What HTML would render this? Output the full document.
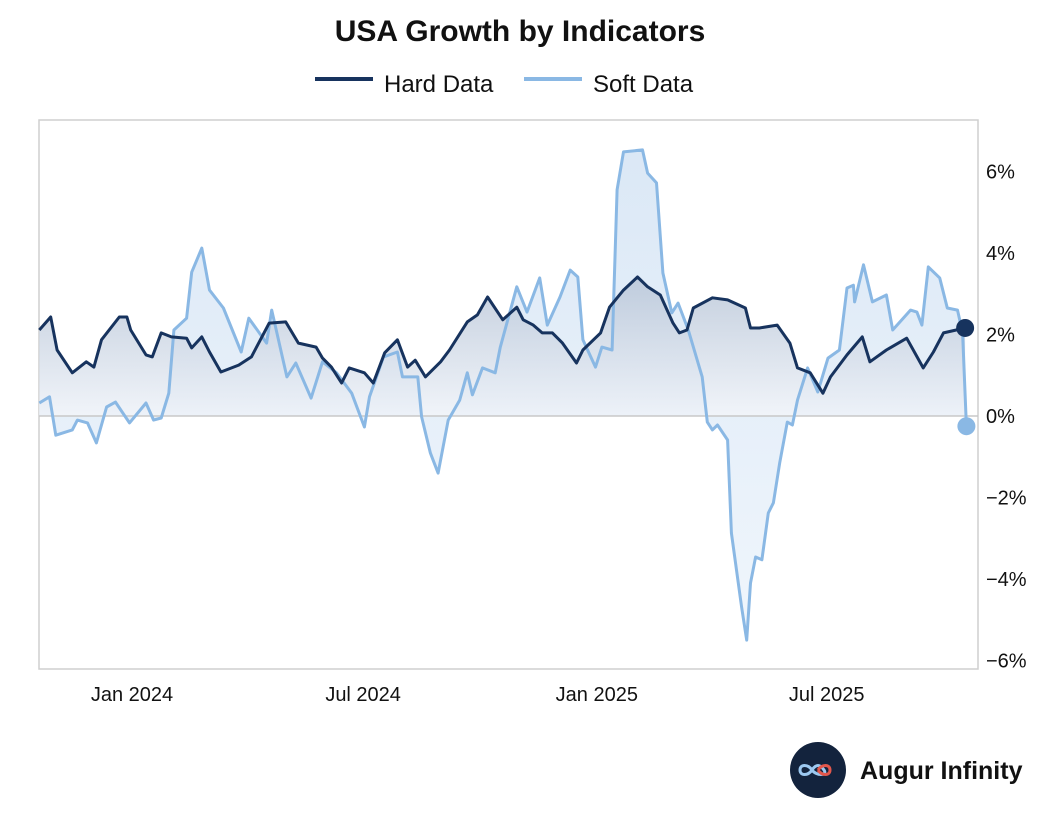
<!DOCTYPE html>
<html><head><meta charset="utf-8"><style>
html,body{margin:0;padding:0;background:#fff;}
svg text{font-family:"Liberation Sans",sans-serif;fill:#111;}
</style></head><body>
<svg id="chart" width="1040" height="812" viewBox="0 0 1040 812">
<defs>
<linearGradient id="gHard" x1="0" y1="0" x2="0" y2="1"><stop offset="0" stop-color="#b9c6d8"/><stop offset="1" stop-color="#eef2f8"/></linearGradient>
<linearGradient id="gSoft" x1="0" y1="0" x2="0" y2="1"><stop offset="0" stop-color="#dbe8f6"/><stop offset="1" stop-color="#f0f6fc"/></linearGradient>
</defs>
<text x="520" y="41" text-anchor="middle" font-size="30" font-weight="bold">USA Growth by Indicators</text>
<g>
<g><line x1="315" y1="79" x2="373" y2="79" stroke="#17335e" stroke-width="4"/><text x="384" y="92" font-size="24">Hard Data</text></g>
<g><line x1="524" y1="79" x2="582" y2="79" stroke="#8ab8e4" stroke-width="4"/><text x="593" y="92" font-size="24">Soft Data</text></g>
</g>
<rect x="39" y="120" width="939" height="549" fill="none" stroke="#cfcfcf" stroke-width="1.5"/>
<g id="plot"></g>
<g id="axes"></g>
<g>
<circle cx="818" cy="770" r="28" fill="#13233d"/>
<path d="M812 770 c-4-6-12-6-12 0 s8 6 12 0 s8-6 12-0 s-8 6-12 0" fill="none" stroke="#9cc8f0" stroke-width="3"/>
<path d="M818 770 c4-6 12-6 12 0 s-8 6-12 0" fill="none" stroke="#e2574c" stroke-width="3"/>
<text x="860" y="779" font-size="25" font-weight="bold">Augur Infinity</text>
</g>
</svg>
<script>
const hardDays=[-73,-64,-59,-47,-36,-30,-24,-10,-4,-1,11,16,23,31,43,47,55,61,70,84,94,108,121,131,145,150,157,165,171,183,190,199,209,217,223,231,243,250,264,272,280,292,303,308,316,323,331,339,350,355,369,376,387,398,406,416,426,431,437,442,457,469,483,487,494,508,518,524,534,544,550,563,575,581,594,610,623,631,639,656];
const hardValues=[2.11,2.43,1.62,1.06,1.33,1.20,1.87,2.43,2.43,2.11,1.50,1.45,2.04,1.94,1.91,1.67,1.94,1.57,1.08,1.25,1.45,2.28,2.31,1.79,1.69,1.42,1.20,0.81,1.18,1.06,0.81,1.55,1.87,1.20,1.37,0.96,1.33,1.62,2.31,2.48,2.92,2.36,2.67,2.36,2.23,2.04,2.04,1.79,1.30,1.62,2.04,2.67,3.09,3.41,3.17,2.97,2.28,2.04,2.11,2.65,2.90,2.85,2.65,2.16,2.16,2.23,1.79,1.18,1.06,0.56,0.96,1.50,1.94,1.33,1.62,1.91,1.18,1.57,2.04,2.16];
const softDays=[-73,-65,-60,-47,-43,-35,-28,-20,-13,-2,11,17,23,29,33,43,47,55,61,72,86,92,106,110,122,129,141,150,161,173,183,187,198,209,213,225,228,235,241,249,258,264,268,276,286,290,303,311,321,327,337,345,351,355,365,370,378,382,387,402,406,413,418,425,430,438,449,453,457,461,469,472,480,484,487,491,496,501,505,510,516,520,524,532,540,548,557,563,568,569,576,583,594,599,613,618,622,627,636,642,650,654,657];
const softValues=[0.32,0.47,-0.47,-0.34,-0.10,-0.17,-0.66,0.22,0.34,-0.17,0.32,-0.10,-0.05,0.56,2.11,2.40,3.53,4.12,3.09,2.65,1.57,2.40,1.79,2.60,0.96,1.30,0.44,1.33,1.06,0.56,-0.27,0.47,1.45,1.57,0.96,0.96,-0.02,-0.91,-1.40,-0.10,0.39,1.06,0.52,1.18,1.06,1.69,3.17,2.55,3.39,2.23,2.92,3.58,3.41,1.87,1.20,1.69,1.62,5.55,6.48,6.53,5.96,5.72,3.51,2.53,2.77,2.11,0.96,-0.15,-0.34,-0.22,-0.59,-2.87,-4.69,-5.50,-4.10,-3.46,-3.53,-2.38,-2.13,-1.15,-0.15,-0.22,0.39,1.18,0.59,1.42,1.62,3.14,3.21,2.80,3.71,2.80,2.97,2.11,2.60,2.55,2.23,3.66,3.39,2.65,2.60,2.04,-0.25];
const yTicks=[6,4,2,0,-2,-4,-6];
const xTickDays=[0,182,366,547];
const xTickLabels=["Jan 2024","Jul 2024","Jan 2025","Jul 2025"];

const NS="http://www.w3.org/2000/svg";
const xS=d=>132+d*1.27;
const yS=v=>416-v*40.75;
const plot=document.getElementById('plot'), axes=document.getElementById('axes');
function mk(tag,attrs,parent){const e=document.createElementNS(NS,tag);for(const k in attrs)e.setAttribute(k,attrs[k]);parent.appendChild(e);return e;}
function linePath(days,vals){return days.map((d,i)=>(i?'L':'M')+xS(d).toFixed(1)+' '+yS(vals[i]).toFixed(1)).join(' ');}
function areaPath(days,vals){return linePath(days,vals)+' L'+xS(days[days.length-1]).toFixed(1)+' '+yS(0)+' L'+xS(days[0]).toFixed(1)+' '+yS(0)+' Z';}

const sa=mk('path',{d:areaPath(softDays,softValues),fill:'url(#gSoft)'},plot);


const ha=mk('path',{d:areaPath(hardDays,hardValues),fill:'url(#gHard)','fill-opacity':'0.85'},plot);


const zl=mk('line',{x1:39,x2:978,y1:yS(0),y2:yS(0),stroke:'#c8c8c8','stroke-width':1.5},plot);


const sl=mk('path',{d:linePath(softDays,softValues),fill:'none',stroke:'#8ab8e4','stroke-width':3,'stroke-linejoin':'round'},plot);


const hl=mk('path',{d:linePath(hardDays,hardValues),fill:'none',stroke:'#17335e','stroke-width':3,'stroke-linejoin':'round'},plot);


const hd=mk('circle',{cx:xS(hardDays[hardDays.length-1]),cy:yS(hardValues[hardValues.length-1]),r:9,fill:'#17335e'},plot);


const sd=mk('circle',{cx:xS(softDays[softDays.length-1]),cy:yS(softValues[softValues.length-1]),r:9,fill:'#8ab8e4'},plot);



yTicks.forEach(v=>{
  const t=mk('text',{x:986,y:yS(v)+7,'font-size':20},axes);
  t.textContent=(v<0?'\u2212'+Math.abs(v):v)+'%';
  
  
});
xTickDays.forEach((d,i)=>{
  const t=mk('text',{x:xS(d),y:701,'font-size':20,'text-anchor':'middle'},axes);
  t.textContent=xTickLabels[i];
  
  
});
</script>
</body></html>
